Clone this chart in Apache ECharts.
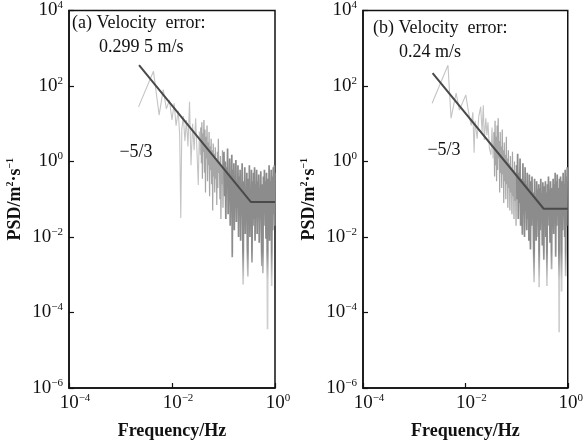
<!DOCTYPE html>
<html>
<head>
<meta charset="utf-8">
<style>
  html, body { margin: 0; padding: 0; background: #fff; }
  #chart { width: 586px; height: 445px; }
</style>
<script src="https://cdn.jsdelivr.net/npm/echarts@6/dist/echarts.min.js"></script>
</head>
<body>
<div id="chart"></div>
<script>
// panel (a): frequency (Hz) and PSD (m^2 s^-1)
var freqA = [
  0.00224, 0.00437, 0.00562, 0.00676, 0.00776, 0.00891, 0.0100, 0.0110, 0.0120, 0.0132,
  0.0141, 0.0148, 0.0155, 0.0166, 0.0178, 0.0191, 0.0204, 0.0219, 0.0234, 0.0251,
  0.0269, 0.0288, 0.0324, 0.0339, 0.0355,
  0.0363, 0.0372, 0.0380, 0.0389, 0.0398, 0.0407, 0.0417, 0.0427, 0.0437, 0.0447,
  0.0457, 0.0468, 0.0479, 0.0490, 0.0501, 0.0513, 0.0525, 0.0537, 0.0550, 0.0562,
  0.0575, 0.0589, 0.0603, 0.0617, 0.0631, 0.0646, 0.0661, 0.0676, 0.0692, 0.0708,
  0.0724, 0.0741, 0.0759, 0.0776, 0.0794, 0.0813, 0.0832, 0.0851, 0.0871, 0.0891,
  0.0912, 0.0933, 0.0955, 0.0977, 0.100,
  0.102, 0.105, 0.108, 0.111, 0.114, 0.117, 0.120, 0.123, 0.126, 0.129,
  0.132, 0.135, 0.138, 0.141, 0.145, 0.148, 0.151, 0.155, 0.159, 0.162,
  0.166, 0.170, 0.174, 0.178, 0.182, 0.187, 0.191, 0.196, 0.200, 0.205,
  0.210, 0.215, 0.220, 0.225, 0.230, 0.236, 0.241, 0.247, 0.253, 0.259,
  0.265, 0.271, 0.277, 0.284, 0.290, 0.297, 0.304, 0.311, 0.318, 0.326,
  0.333, 0.341, 0.349, 0.357, 0.366, 0.374, 0.383, 0.392, 0.401, 0.410,
  0.420, 0.430, 0.440, 0.450, 0.461, 0.472, 0.483, 0.494, 0.506, 0.518,
  0.530, 0.542, 0.555, 0.568, 0.581, 0.595, 0.609, 0.623, 0.638, 0.653,
  0.668, 0.684, 0.700, 0.716, 0.733, 0.750, 0.768, 0.786, 0.804, 0.823,
  0.843, 0.862, 0.883, 0.903, 0.925, 0.946, 0.969, 0.990, 1.0
];
var psdA = [
  28, 245, 17, 80, 25, 42, 12.6, 35, 8.9, 22,
  5.0, 0.032, 7.1, 16, 3.5, 12.6, 2.5, 38, 0.8, 10,
  2.0, 14, 0.24, 6.2, 1.5,
  8.0, 0.9, 11, 0.35, 5.5, 1.8, 12.6, 0.5, 7.0, 0.15,
  4.5, 1.2, 9.0, 0.3, 3.2, 0.8, 6.0, 0.12, 2.5, 0.6,
  4.0, 0.25, 2.0, 0.05, 3.0, 0.4, 1.6, 0.15, 2.4, 0.35,
  1.2, 0.07, 1.8, 0.2, 4.0, 0.5, 1.0, 0.1, 1.4, 0.03,
  0.8, 0.25, 2.0, 0.06, 0.6,
  1.8, 0.12, 1.0, 0.03, 0.7, 0.2, 2.2, 0.04, 0.5, 0.1,
  1.2, 0.02, 0.4, 0.08, 1.5, 0.0029, 0.6, 0.05, 0.9, 0.015,
  0.35, 0.09, 1.1, 0.025, 0.3, 0.06, 0.8, 0.01, 0.4, 0.04,
  0.6, 0.008, 0.25, 0.05, 0.9, 0.02, 0.00055, 0.3, 0.03, 0.7,
  0.012, 0.2, 0.04, 0.5, 0.006, 0.0009, 0.35, 0.025, 0.8, 0.01,
  0.15, 0.03, 0.6, 0.0021, 0.3, 0.02, 0.5, 0.03, 0.7, 0.008,
  0.25, 0.05, 0.6, 0.012, 0.3, 0.04, 0.45, 0.007, 0.2, 0.06,
  0.55, 0.015, 0.0017, 0.25, 0.0011, 0.4, 0.02, 0.6, 0.05, 0.3,
  0.009, 0.5, 0.03, 0.000036, 0.35, 0.02, 0.8, 0.008, 0.3, 0.05,
  0.6, 0.0005, 0.4, 0.015, 0.7, 0.04, 0.8, 0.02, 0.5
];

// panel (b)
var freqB = [
  0.00224, 0.00457, 0.00525, 0.0066, 0.00763, 0.0102, 0.0110, 0.0120, 0.0130, 0.0140,
  0.0148, 0.0155, 0.0170, 0.0183, 0.0199, 0.0212, 0.0224, 0.0234, 0.0251, 0.0263,
  0.0276, 0.0295, 0.0316, 0.0331, 0.0347, 0.0363,
  0.0372, 0.0380, 0.0389, 0.0398, 0.0407, 0.0417, 0.0427, 0.0437, 0.0447, 0.0457,
  0.0468, 0.0479, 0.0490, 0.0501, 0.0513, 0.0525, 0.0537, 0.0550, 0.0562, 0.0575,
  0.0589, 0.0603, 0.0617, 0.0631, 0.0646, 0.0661, 0.0676, 0.0692, 0.0708, 0.0724,
  0.0741, 0.0759, 0.0776, 0.0794, 0.0813, 0.0832, 0.0851, 0.0871, 0.0891, 0.0912,
  0.0933, 0.0955, 0.0977, 0.100,
  0.102, 0.105, 0.108, 0.111, 0.114, 0.117, 0.120, 0.123, 0.126, 0.130,
  0.133, 0.136, 0.140, 0.143, 0.147, 0.150, 0.154, 0.158, 0.162, 0.166,
  0.170, 0.174, 0.178, 0.182, 0.187, 0.191, 0.196, 0.200, 0.205, 0.210,
  0.215, 0.220, 0.225, 0.230, 0.236, 0.241, 0.247, 0.253, 0.259, 0.265,
  0.271, 0.276, 0.283, 0.290, 0.297, 0.304, 0.311, 0.318, 0.326, 0.333,
  0.341, 0.349, 0.357, 0.366, 0.374, 0.383, 0.392, 0.401, 0.410, 0.420,
  0.430, 0.440, 0.450, 0.461, 0.472, 0.483, 0.494, 0.506, 0.518, 0.530,
  0.542, 0.555, 0.568, 0.581, 0.595, 0.609, 0.623, 0.638, 0.653, 0.668,
  0.680, 0.692, 0.708, 0.724, 0.741, 0.758, 0.776, 0.794, 0.813, 0.832,
  0.851, 0.871, 0.891, 0.910, 0.933, 0.955, 0.977, 1.0
];
var psdB = [
  35, 355, 14, 65, 23, 58, 30, 15, 9, 20,
  1.7, 12, 4, 16, 28, 6, 31, 3.7, 14, 5,
  11, 2.2, 1.5, 8, 1.2, 6,
  0.4, 12, 0.8, 4.5, 0.3, 9, 0.6, 14, 1.2, 3.5,
  0.15, 6, 0.5, 2.5, 0.2, 7, 0.45, 2.0, 0.08, 3.2,
  0.3, 1.5, 0.1, 4.5, 0.25, 1.2, 0.06, 2.0, 0.2, 0.9,
  0.05, 1.4, 0.15, 0.7, 0.04, 1.8, 0.12, 0.6, 0.03, 1.0,
  0.09, 0.5, 0.02, 0.8,
  0.1, 1.6, 0.03, 0.5, 0.08, 1.2, 0.02, 0.35, 0.06, 0.0115,
  0.9, 0.04, 0.3, 0.01, 0.7, 0.05, 0.25, 0.015, 0.5, 0.03,
  0.2, 0.008, 0.45, 0.04, 0.0047, 0.3, 0.02, 0.4, 0.06, 0.15,
  0.006, 0.00063, 0.35, 0.02, 0.12, 0.008, 0.3, 0.04, 0.18, 0.01,
  0.25, 0.00047, 0.2, 0.015, 0.35, 0.05, 0.12, 0.006, 0.28, 0.03,
  0.0025, 0.22, 0.04, 0.3, 0.01, 0.15, 0.0005, 0.25, 0.02, 0.4,
  0.06, 0.18, 0.007, 0.3, 0.03, 0.0014, 0.2, 0.05, 0.35, 0.012,
  0.25, 0.04, 0.5, 0.003, 0.3, 0.02, 0.45, 0.06, 0.2, 0.008,
  0.00003, 0.35, 0.03, 0.4, 0.05, 0.00036, 0.3, 0.015, 0.5, 0.04,
  0.25, 0.01, 0.6, 0.00091, 0.4, 0.02, 0.7, 0.3
];

// -5/3 reference lines with the flat noise floor
var fitFreqA = [0.00229, 0.339, 1];
var fitPsdA = [355, 0.085, 0.085];
var fitFreqB = [0.00229, 0.339, 1];
var fitPsdB = [219, 0.056, 0.056];

var xTickExp = [-4, -2, 0];
var yTickExp = [-6, -4, -2, 0, 2, 4];
var slopeText = '\u22125/3';
var errorTexts = ['0.299 5 m/s', '0.24 m/s'];

var chart = echarts.init(document.getElementById('chart'));
var serif = '"Liberation Serif", "Times New Roman", serif';
var ink = '#111';

function expStr(v) {
  var n = Math.round(Math.log10(v));
  return n < 0 ? '\u2212' + (-n) : '' + n;
}

// pieces of a spectrum between two frequencies (keeps the joining point)
function segment(fs, ps, lo, hi) {
  var out = [];
  for (var i = 0; i < fs.length; i++) {
    if (fs[i] < lo) continue;
    if (fs[i] < hi || (i > 0 && fs[i - 1] < hi)) out.push([fs[i], ps[i]]);
  }
  return out;
}
function zip(fs, ps) {
  return fs.map(function (f, i) { return [f, ps[i]]; });
}

var tickRich = {
  b: { fontFamily: serif, fontSize: 19, color: ink, lineHeight: 21 },
  e: { fontFamily: serif, fontSize: 11, color: ink, verticalAlign: 'top', lineHeight: 12 },
  pw: { width: 12 },
  pn: { width: 6 }
};

function xAxisOpt(gi) {
  return {
    type: 'log', logBase: 10, gridIndex: gi,
    min: Math.pow(10, xTickExp[0]), max: Math.pow(10, xTickExp[xTickExp.length - 1]), interval: 2,
    name: 'Frequency/Hz', nameLocation: 'middle', nameGap: 34,
    nameTextStyle: { fontFamily: serif, fontWeight: 'bold', fontSize: 18, color: ink },
    axisLine: { show: true, lineStyle: { color: ink, width: 1.5 } },
    axisTick: { show: true, inside: true, length: 5, lineStyle: { color: ink, width: 1.2 } },
    minorTick: { show: false },
    splitLine: { show: false },
    axisLabel: {
      margin: 5, showMinLabel: true, showMaxLabel: true, rich: tickRich,
      formatter: function (v) {
        var s = expStr(v);
        return '{' + (s.length > 1 ? 'pw' : 'pn') + '| }{b|10}{e|' + s + '}';
      }
    }
  };
}

function yAxisOpt(gi) {
  return {
    type: 'log', logBase: 10, gridIndex: gi,
    min: Math.pow(10, yTickExp[0]), max: Math.pow(10, yTickExp[yTickExp.length - 1]), interval: 2,
    name: '{t|PSD/m}{s|2}{t|\u00b7s}{s|\u22121}', nameLocation: 'middle', nameGap: 44,
    nameTextStyle: {
      rich: {
        t: { fontFamily: serif, fontWeight: 'bold', fontSize: 18, color: ink, lineHeight: 20 },
        s: { fontFamily: serif, fontWeight: 'bold', fontSize: 10, color: ink, verticalAlign: 'top', lineHeight: 11 }
      }
    },
    axisLine: { show: true, lineStyle: { color: ink, width: 1.5 } },
    axisTick: { show: true, inside: true, length: 5, lineStyle: { color: ink, width: 1.2 } },
    minorTick: { show: false },
    splitLine: { show: false },
    axisLabel: {
      margin: 6, showMinLabel: true, showMaxLabel: true, rich: tickRich,
      formatter: function (v) { return '{b|10}{e|' + expStr(v) + '}'; }
    }
  };
}

// dense part: darker where the traces pile up, light spikes below
var denseColor = {
  type: 'linear', x: 0, y: 0, x2: 0, y2: 445, global: true,
  colorStops: [
    { offset: 0, color: '#8c8c8c' },
    { offset: 0.565, color: '#8c8c8c' },
    { offset: 0.63, color: '#cdcdcd' },
    { offset: 1, color: '#d2d2d2' }
  ]
};

function spectrumSeries(gi, fs, ps, fitF, fitP) {
  var base = { type: 'line', xAxisIndex: gi, yAxisIndex: gi, showSymbol: false, symbol: 'none', silent: true };
  return [
    echarts.util.extend({ data: segment(fs, ps, 0, 0.036), lineStyle: { color: '#c4c4c4', width: 1.1 } }, base),
    echarts.util.extend({ data: segment(fs, ps, 0.036, 0.1), lineStyle: { color: '#a6a6a6', width: 1.2 } }, base),
    echarts.util.extend({ data: segment(fs, ps, 0.1, 10), lineStyle: { color: denseColor, width: 1.7 } }, base),
    echarts.util.extend({ data: zip(fitF, fitP), z: 5, lineStyle: { color: '#4a4a4a', width: 2 } }, base)
  ];
}

function label(x, y, text, align) {
  return {
    type: 'text', x: x, y: y, silent: true,
    style: {
      text: text, fill: ink, font: '18px ' + serif,
      align: align || 'left', verticalAlign: 'middle',
      textAlign: align || 'left', textVerticalAlign: 'middle'
    }
  };
}

var option = {
  animation: false,
  backgroundColor: '#fff',
  grid: [
    { left: 69, top: 10, width: 206, height: 379, show: true, borderColor: ink, borderWidth: 1.5, backgroundColor: 'transparent' },
    { left: 363, top: 10, width: 206, height: 379, show: true, borderColor: ink, borderWidth: 1.5, backgroundColor: 'transparent' }
  ],
  xAxis: [xAxisOpt(0), xAxisOpt(1)],
  yAxis: [yAxisOpt(0), yAxisOpt(1)],
  series: spectrumSeries(0, freqA, psdA, fitFreqA, fitPsdA)
    .concat(spectrumSeries(1, freqB, psdB, fitFreqB, fitPsdB)),
  graphic: [
    label(72, 23, '(a) Velocity\u2002error:'),
    label(99, 47, errorTexts[0]),
    label(136, 152, slopeText, 'center'),
    label(373, 28, '(b) Velocity\u2002error:'),
    label(399, 52, errorTexts[1]),
    label(444, 150, slopeText, 'center')
  ]
};

chart.setOption(option);
</script>
</body>
</html>
